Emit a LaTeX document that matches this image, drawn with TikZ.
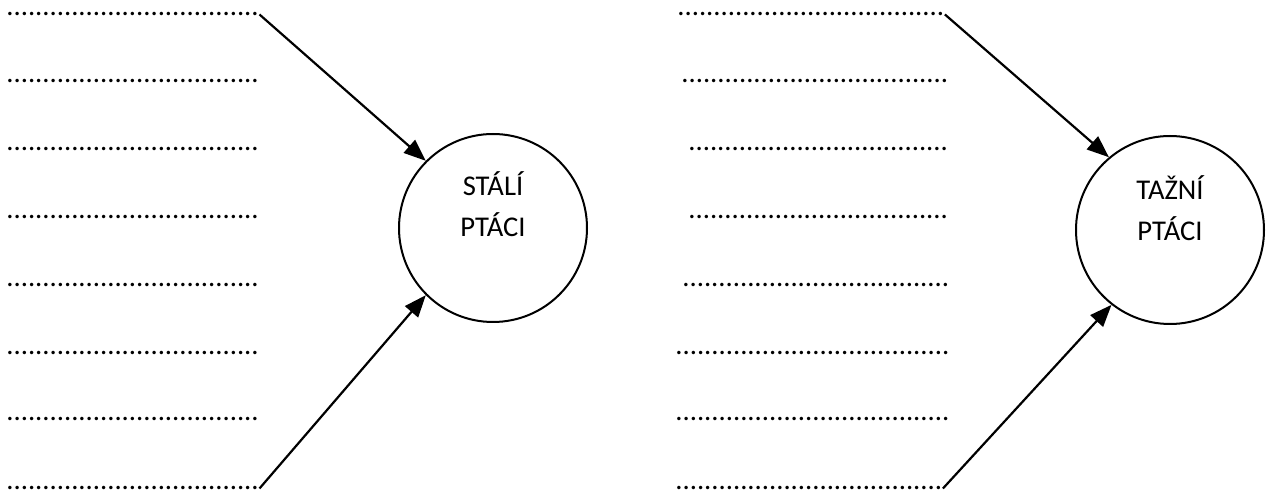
\documentclass[tikz,border=0pt]{standalone}
\usepackage{fontspec}
\setmainfont{Carlito}
\usetikzlibrary{arrows.meta}

\newcount\tcnt
\newcommand{\radek}[1]{\tcnt=0 \loop\ifnum\tcnt<#1 .\advance\tcnt by 1 \repeat}

\begin{document}
\begin{tikzpicture}[x=0.5pt,y=-0.5pt]
\tikzstyle{bird}=[circle,draw,line width=1pt,minimum size=94pt,inner sep=0pt]
\tikzstyle{dotrow}=[anchor=base west,inner sep=0pt,font=\fontsize{14.3}{20.5}\selectfont]
\tikzstyle{birdlabel}=[anchor=north,align=center,inner sep=0pt,font=\fontsize{14.3}{20.5}\selectfont]
\tikzstyle{arr}=[line width=1.1pt,-{Triangle[length=11pt,width=8.5pt]}]
\useasboundingbox (0,0) rectangle (1266,491);

% left column
\node[dotrow] (l1) at (6,16) {\radek{35}};
\node[dotrow] (l2) at (6,83) {\radek{35}};
\node[dotrow] (l3) at (6,151) {\radek{35}};
\node[dotrow] (l4) at (6,219) {\radek{35}};
\node[dotrow] (l5) at (6,287) {\radek{35}};
\node[dotrow] (l6) at (6,355) {\radek{35}};
\node[dotrow] (l7) at (6,421) {\radek{35}};
\node[dotrow] (l8) at (6,490) {\radek{35}};

\node[bird] (st) at (493,228) {};
\node[birdlabel] (stt) at ([yshift=28.5pt]st.center) {STÁLÍ\\PTÁCI};

\draw[arr] (l1.east) -- (st.135);
\draw[arr] (l8.east) -- (st.225);

% right column
\node[dotrow] (p1) at (677,16) {\radek{37}};
\node[dotrow] (p2) at (681,83) {\radek{37}};
\node[dotrow] (p3) at (688,151) {\radek{36}};
\node[dotrow] (p4) at (688,219) {\radek{36}};
\node[dotrow] (p5) at (682,287) {\radek{37}};
\node[dotrow] (p6) at (675,355) {\radek{38}};
\node[dotrow] (p7) at (675,421) {\radek{38}};
\node[dotrow] (p8) at (675,490) {\radek{37}};

\node[bird] (tz) at (1170,230) {};
\node[birdlabel] (tzt) at ([yshift=27.5pt]tz.center) {TAŽNÍ\\PTÁCI};

\draw[arr] (p1.east) -- (tz.130);
\draw[arr] (p8.east) -- (tz.232);

\end{tikzpicture}
\end{document}
